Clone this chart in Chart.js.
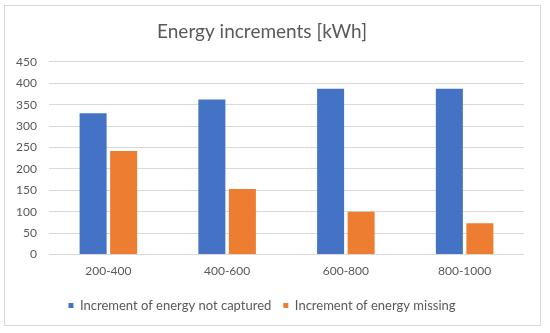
<!DOCTYPE html>
<html>
<head>
<meta charset="utf-8">
<script src="https://cdn.jsdelivr.net/npm/chart.js@4/dist/chart.umd.min.js"></script>
<style>
  html, body { margin: 0; padding: 0; background: #fff; }
  #wrap { position: absolute; left: 0; top: 0; width: 550px; height: 333px; }
</style>
</head>
<body>
<div id="wrap"><canvas id="chart" width="550" height="333"></canvas></div>
<script>
// chart values
const categories = ['200-400', '400-600', '600-800', '800-1000'];
const notCaptured = [330, 362, 387, 387];
const missing = [242, 153, 100, 73];
const seriesNames = ['Increment of energy not captured', 'Increment of energy missing'];
const yMax = 450;
const yStep = 50;

const textColor = '#595959';
const gridColor = '#d9d9d9';
const fontFamily = 'Lato, "Open Sans", sans-serif';

// light frame round the whole chart, like the office chart border
const framePlugin = {
    id: 'frame',
    beforeDraw(chart) {
        const ctx = chart.ctx;
        ctx.save();
        ctx.fillStyle = '#fff';
        ctx.fillRect(0, 0, chart.width, chart.height);
        ctx.strokeStyle = '#d9d9d9';
        ctx.lineWidth = 1;
        ctx.strokeRect(4.5, 5.5, 536, 320);
        ctx.restore();
    }
};

new Chart(document.getElementById('chart'), {
    type: 'bar',
    data: {
        labels: categories,
        datasets: [{
            label: seriesNames[0],
            data: notCaptured,
            backgroundColor: '#4472c4',
            borderWidth: 0
        }, {
            label: seriesNames[1],
            data: missing,
            backgroundColor: '#ed7d31',
            borderWidth: 0
        }]
    },
    options: {
        responsive: false,
        animation: false,
        layout: { padding: { left: 0, right: 26, top: 20, bottom: 11 } },
        datasets: {
            bar: { categoryPercentage: 0.514, barPercentage: 0.885 }
        },
        plugins: {
            title: {
                display: true,
                text: 'Energy increments [kWh]',
                color: textColor,
                font: { family: fontFamily, size: 19, weight: 'normal' },
                padding: { top: 0, bottom: 19 }
            },
            legend: {
                position: 'bottom',
                labels: {
                    color: textColor,
                    font: { family: fontFamily, size: 13 },
                    boxWidth: 5,
                    boxHeight: 5,
                    padding: 12
                }
            },
            tooltip: { enabled: false }
        },
        scales: {
            x: {
                grid: { display: false, drawTicks: false },
                border: { display: false },
                ticks: {
                    color: textColor,
                    font: { family: fontFamily, size: 12 },
                    padding: 9
                }
            },
            y: {
                min: 0,
                max: yMax,
                border: { display: false },
                grid: { color: gridColor, drawTicks: false },
                ticks: {
                    stepSize: yStep,
                    color: textColor,
                    font: { family: fontFamily, size: 12 },
                    padding: 12
                },
                afterFit(scale) { scale.width = 49; }
            }
        }
    },
    plugins: [framePlugin]
});
</script>
</body>
</html>
